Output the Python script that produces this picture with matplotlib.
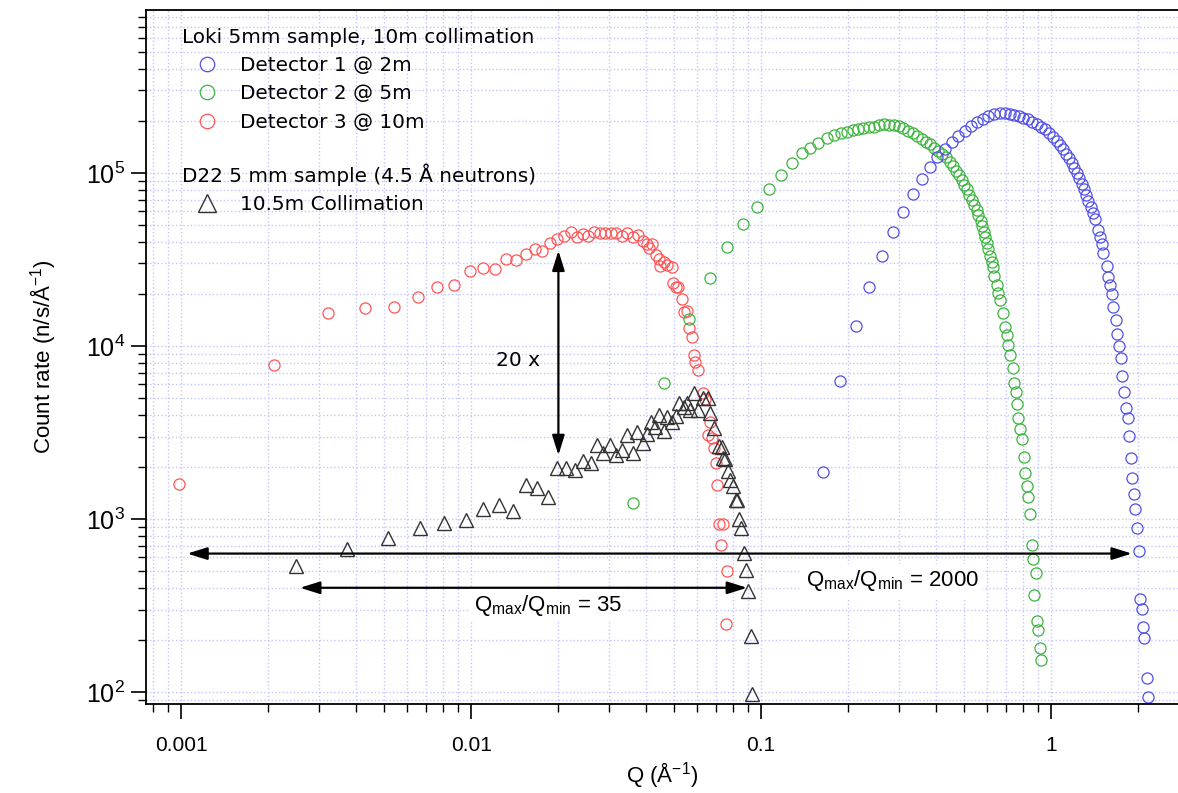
import matplotlib
matplotlib.use('Agg')
import matplotlib.pyplot as plt
from matplotlib import ticker

# Detector 3 @ 10m (red)
red_q = [0.00098, 0.00209, 0.00322, 0.00432, 0.00544, 0.00655, 0.00764, 0.00874, 0.00993, 0.01096,
         0.0121, 0.01318, 0.01429, 0.01544, 0.0166, 0.01762, 0.0187, 0.01985, 0.02093, 0.02208,
         0.02313, 0.02427, 0.02537, 0.02655, 0.02786, 0.02904, 0.03032, 0.03162, 0.0331, 0.0346,
         0.03612, 0.03776, 0.03929, 0.04055, 0.04207, 0.0412, 0.04345, 0.04457, 0.04632, 0.04487,
         0.0473, 0.04921, 0.04986, 0.05093, 0.05188, 0.05328, 0.05423, 0.05546, 0.05662, 0.05768,
         0.05848, 0.05918, 0.06081, 0.06295, 0.06412, 0.06668, 0.06546, 0.06761, 0.06855, 0.06982,
         0.07068, 0.07166, 0.07379, 0.07278, 0.07651, 0.07551]
red_n = [1590, 7800, 15580, 16590, 16740, 19110, 22030, 22440, 27230, 28380,
         28000, 31850, 31420, 33890, 36220, 35400, 39260, 41400, 43480, 45620,
         42860, 44270, 43250, 45620, 44800, 45200, 44800, 45200, 43250, 45200,
         42860, 43850, 40640, 38900, 38900, 36730, 33580, 31700, 30620, 28980,
         29380, 28730, 23220, 22030, 21850, 18620, 15780, 16000, 12650, 11220,
         8870, 8110, 7260, 5370, 4920, 3650, 3060, 2930, 2590, 2110,
         1580, 931, 931, 707, 500, 246]

# Detector 2 @ 5m (green)
green_q = [0.0361, 0.04628, 0.05659, 0.06667, 0.07651, 0.0869, 0.0971, 0.1068, 0.1169, 0.1276,
           0.1381, 0.1476, 0.1576, 0.1684, 0.1785, 0.1883, 0.1975, 0.2071, 0.2165, 0.2254,
           0.2357, 0.2453, 0.2558, 0.2662, 0.277, 0.2874, 0.2991, 0.3096, 0.3221, 0.3335,
           0.3459, 0.3581, 0.3707, 0.3827, 0.396, 0.4088, 0.42, 0.4345, 0.4484, 0.4603,
           0.4703, 0.4829, 0.4922, 0.5012, 0.5121, 0.5228, 0.5329, 0.5427, 0.5544, 0.5615,
           0.5723, 0.5783, 0.5875, 0.5922, 0.603, 0.6079, 0.6162, 0.6245, 0.6324, 0.6375,
           0.6499, 0.6582, 0.667, 0.6847, 0.694, 0.7034, 0.7125, 0.7222, 0.7377, 0.7471,
           0.7556, 0.7652, 0.7713, 0.7818, 0.7962, 0.8069, 0.8153, 0.8244, 0.833, 0.8463,
           0.8565, 0.8653, 0.8842, 0.8751, 0.8948, 0.9041, 0.9142, 0.9237]
green_n = [1232, 6087, 14270, 24620, 37500, 50520, 63860, 80800, 97400, 114700,
           130000, 138900, 149700, 159900, 165900, 171000, 173300, 177300, 178900, 181300,
           183800, 185200, 189400, 191200, 189400, 188700, 187000, 181300, 175600, 169600,
           163700, 157200, 151700, 146500, 140100, 134100, 128300, 123300, 116300, 109800,
           103100, 97400, 91100, 85200, 80500, 74630, 69810, 65310, 61100, 57180,
           53010, 49390, 45780, 42500, 39240, 36220, 33130, 30710, 28510, 25500,
           22520, 20160, 18450, 15580, 12930, 11580, 10130, 8870, 7430, 6087,
           5400, 4620, 3820, 3300, 2900, 2290, 1852, 1551, 1335, 1065,
           707, 585, 487, 364, 258, 228, 181, 153]

# Detector 1 @ 2m (blue)
blue_q = [0.1632, 0.1873, 0.2121, 0.2357, 0.2607, 0.2844, 0.3096, 0.3335, 0.359, 0.3818,
          0.4045, 0.4294, 0.4546, 0.479, 0.5031, 0.529, 0.5544, 0.5806, 0.6065, 0.6335,
          0.667, 0.694, 0.7222, 0.7471, 0.7757, 0.8026, 0.8311, 0.8619, 0.8928, 0.9237,
          0.9535, 0.9865, 1.0184, 1.0464, 1.074, 1.1026, 1.1264, 1.1536, 1.1786, 1.2032,
          1.2265, 1.2521, 1.2762, 1.2997, 1.3205, 1.3448, 1.3707, 1.3994, 1.4183, 1.4561,
          1.4757, 1.4956, 1.5147, 1.5564, 1.5763, 1.5975, 1.6193, 1.64, 1.6755, 1.6929,
          1.72, 1.7436, 1.7617, 1.79, 1.8141, 1.8389, 1.8621, 1.8797, 1.9068, 1.9297,
          1.953, 1.9765, 2.0064, 2.0273, 2.055, 2.0713, 2.0929, 2.138, 2.1549]
blue_n = [1877, 6276, 13050, 21840, 33270, 45420, 59750, 75330, 92700, 107900,
          123800, 136700, 151700, 163700, 174400, 186400, 196600, 204400, 212700, 217800,
          221400, 221400, 219300, 216400, 213600, 208800, 204400, 198000, 191200, 185200,
          178900, 171000, 162100, 153700, 145100, 137100, 128800, 121600, 113800, 106500,
          99600, 93200, 86400, 80500, 74630, 69170, 63860, 58960, 54010, 46830,
          42500, 38870, 34620, 29000, 25160, 22520, 19980, 16870, 14140, 11730,
          10000, 8490, 6735, 5443, 4363, 3820, 3019, 2252, 1719, 1389,
          1139, 884, 657, 345, 302, 237, 206, 121, 93.9]

# D22, 10.5m collimation (triangles)
d22_q = [0.00249, 0.00373, 0.00516, 0.00664, 0.00809, 0.00959, 0.01103, 0.01252, 0.0140, 0.01548,
         0.01694, 0.01838, 0.01974, 0.02127, 0.02285, 0.02427, 0.02588, 0.02713, 0.02858, 0.03013,
         0.03162, 0.0331, 0.0346, 0.03612, 0.03743, 0.03908, 0.04055, 0.04167, 0.04305, 0.04457,
         0.04632, 0.0473, 0.04921, 0.05093, 0.05224, 0.05423, 0.05546, 0.05689, 0.05875, 0.06081,
         0.06324, 0.06577, 0.06668, 0.06887, 0.07166, 0.07311, 0.07413, 0.07516, 0.07709, 0.07816,
         0.0798, 0.08198, 0.0825, 0.08414, 0.08531, 0.08734, 0.08876, 0.09036, 0.09204, 0.0933]
d22_n = [535, 671, 773, 883, 953, 986, 1138, 1205, 1111, 1580,
         1517, 1346, 1982, 1963, 1919, 2173, 2097, 2680, 2399, 2680,
         2344, 2506, 3060, 2414, 3200, 2760, 3100, 3650, 3390, 3990,
         3240, 3900, 3650, 3940, 4670, 4460, 4670, 4270, 5330, 4270,
         4990, 4990, 4110, 3340, 2640, 2620, 2240, 2210, 1900, 1680,
         1550, 1290, 1290, 995, 883, 641, 507, 384, 211, 97.3]

plt.rcParams['font.family'] = 'DejaVu Sans'
plt.rcParams['mathtext.default'] = 'regular'

fig = plt.figure(figsize=(11.78, 7.93), dpi=100)
ax = fig.add_axes([0.124, 0.112, 0.876, 0.876])

circ = dict(marker='o', ls='none', mfc='none', ms=8.0, mew=0.9)
h_red, = ax.plot(red_q, red_n, mec='#ff5555', label='Detector 3 @ 10m', **circ)
h_green, = ax.plot(green_q, green_n, mec='#3cb43c', label='Detector 2 @ 5m', **circ)
h_blue, = ax.plot(blue_q, blue_n, mec='#5050e6', label='Detector 1 @ 2m', **circ)
h_d22, = ax.plot(d22_q, d22_n, marker='^', ls='none', mfc='none', mec='#333333', ms=9.6, mew=1.0,
                 label='10.5m Collimation')

ax.set_xscale('log')
ax.set_yscale('log')
ax.set_xlim(0.000757, 2.74)
ax.set_ylim(85.2, 8.8e5)

ax.xaxis.set_major_formatter(ticker.FuncFormatter(lambda v, p: f'{v:g}'))
ax.xaxis.set_minor_formatter(ticker.NullFormatter())

ax.grid(True, which='both', ls=':', color='#c4c4ff', lw=1)
ax.set_axisbelow(True)
ax.spines['right'].set_visible(False)
for s in ['left', 'bottom', 'top']:
    ax.spines[s].set_linewidth(1.3)
ax.tick_params(which='major', direction='out', length=11, width=1.2)
ax.tick_params(which='minor', direction='out', length=6, width=1.0)
ax.tick_params(axis='x', which='major', pad=12, labelsize=15, labelfontfamily='Liberation Sans')
ax.tick_params(axis='y', which='major', pad=4, labelsize=18, labelfontfamily='Liberation Sans')

ax.set_xlabel('Q (Å$^{-1}$)', fontsize=16, family='Liberation Sans', labelpad=4)
ax.set_ylabel('Count rate (n/s/Å$^{-1}$)', fontsize=16, family='Liberation Sans', labelpad=20)

# legends
leg_kw = dict(loc='upper left', frameon=False, fontsize=14.4, title_fontsize=14.4, alignment='left',
              borderpad=0, borderaxespad=0, handlelength=2.5, handletextpad=0.4,
              labelspacing=0.47, markerscale=1.3)
leg1 = ax.legend(handles=[h_blue, h_green, h_red], title='Loki 5mm sample, 10m collimation',
                 bbox_to_anchor=(0.035, 0.974), **leg_kw)
ax.add_artist(leg1)
ax.legend(handles=[h_d22], title='D22 5 mm sample (4.5 Å neutrons)',
          bbox_to_anchor=(0.035, 0.779), **leg_kw)

# arrows and annotations
arr = dict(arrowstyle='<|-|>,head_length=0.8,head_width=0.25', color='black', lw=1.6,
           shrinkA=0, shrinkB=0, mutation_scale=15)
ax.annotate('', xy=(0.02, 2340), xytext=(0.02, 35600), arrowprops=arr, zorder=6)
ax.annotate('', xy=(0.00105, 632), xytext=(1.9, 632), arrowprops=arr, zorder=6)
ax.annotate('', xy=(0.00257, 401), xytext=(0.0895, 401), arrowprops=arr, zorder=6)

ax.text(0.01446, 8300, '20 x', ha='center', va='center', fontsize=14.5)
box = dict(facecolor='white', edgecolor='none', pad=3)
ax.text(0.01836, 318, 'Q$_{max}$/Q$_{min}$ = 35', ha='center', va='center', fontsize=16,
        family='Liberation Sans', bbox=box, zorder=4)
ax.text(0.283, 440, 'Q$_{max}$/Q$_{min}$ = 2000', ha='center', va='center', fontsize=16,
        family='Liberation Sans', bbox=box, zorder=4)

fig.savefig('out.png', dpi=100)
